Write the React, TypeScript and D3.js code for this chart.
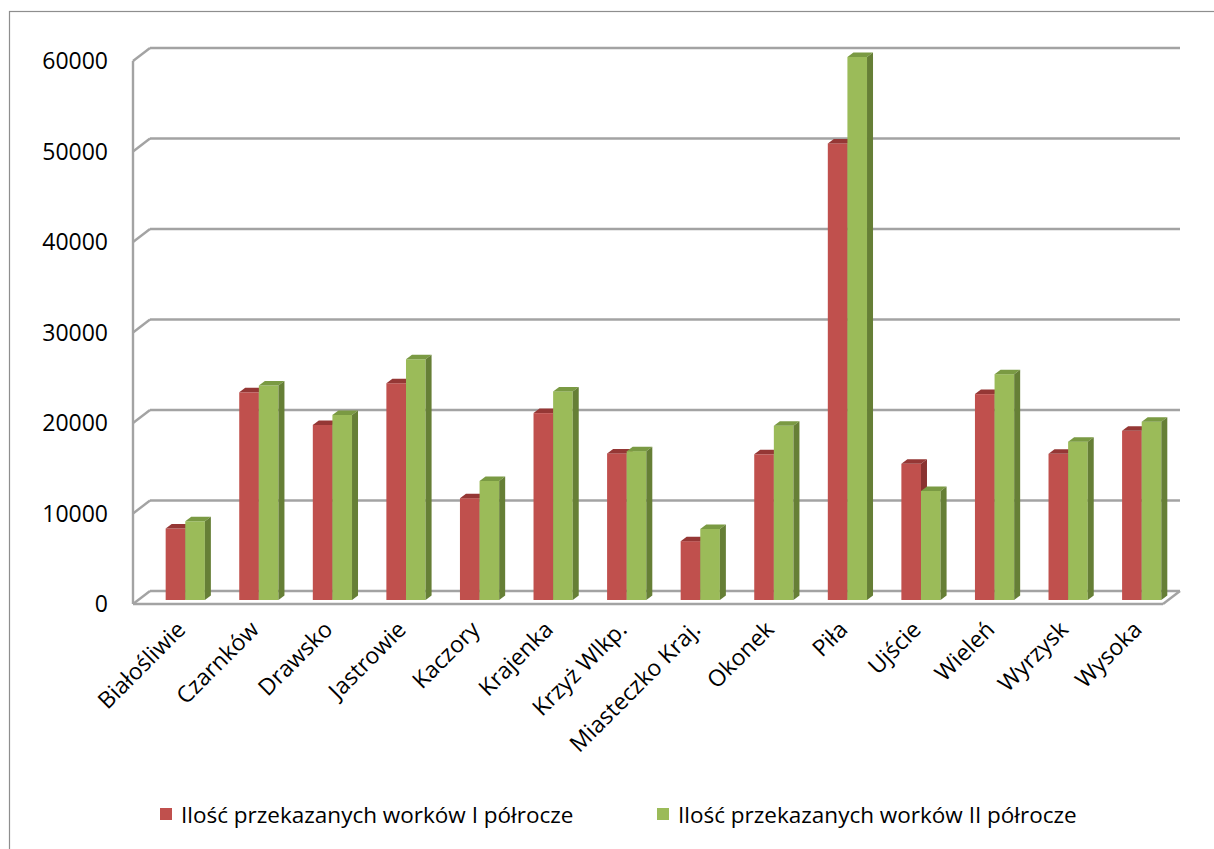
import React from "react";
import * as d3 from "d3";

const categories = [
  "Białośliwie", "Czarnków", "Drawsko", "Jastrowie", "Kaczory", "Krajenka",
  "Krzyż Wlkp.", "Miasteczko Kraj.", "Okonek", "Piła", "Ujście", "Wieleń",
  "Wyrzysk", "Wysoka",
];
const seriesI = [7900, 22950, 19350, 23950, 11250, 20650, 16200, 6500, 16100, 50450, 15050, 22750, 16150, 18700];
const seriesII = [8700, 23700, 20450, 26600, 13150, 23050, 16450, 7850, 19250, 60000, 12050, 24950, 17500, 19700];
const yTicks = [0, 10000, 20000, 30000, 40000, 50000, 60000];
const seriesNames = ["Ilość przekazanych worków I półrocze", "Ilość przekazanych worków II półrocze"];

const W = 1214, H = 849;
const FONT = "'Open Sans', 'Noto Sans', sans-serif";
const DX = 17, DY = -13; // wall depth
const xFront0 = 133, xFront1 = 1163, yFloorFront = 604;
const yFloorBack = yFloorFront + DY;
const barBase = 600;
const BDX = 6, BDY = -4.5; // bar depth

const colors = [
  { front: "#C0504D", top: "#953735", side: "#8A3230" },
  { front: "#9BBB59", top: "#7A9A43", side: "#667F36" },
];

export default function App() {
  const x = d3.scaleBand<string>().domain(categories).range([xFront0, xFront1]).paddingInner(0).paddingOuter(0);
  const yBack = d3.scaleLinear().domain([0, 60000]).range([yFloorBack, 48]);
  const yBar = d3.scaleLinear().domain([0, 60000]).range([barBase, barBase - (yFloorBack - 48)]);
  const bw = x.bandwidth() * 0.2665;
  const offset = x.bandwidth() * 0.444;
  const data = [seriesI, seriesII];

  const grid = "#A3A3A3";
  return (
    <svg width={W} height={H} style={{ position: "absolute", left: 0, top: 0, background: "#fff" }} fontFamily={FONT}>
      <rect x={9.5} y={11.5} width={1210} height={850} fill="#fff" stroke="#8E8E8E" strokeWidth={1.2} />
      {/* walls & gridlines */}
      {yTicks.map((t) => (
        <g key={t}>
          <line x1={xFront0 + DX} x2={xFront1 + DX} y1={yBack(t)} y2={yBack(t)} stroke={grid} strokeWidth={2.4} />
          <line x1={xFront0} x2={xFront0 + DX} y1={yBack(t) - DY} y2={yBack(t)} stroke={grid} strokeWidth={2.4} />
          <text x={108} y={yBack(t) - DY} dy="0.36em" textAnchor="end" fontSize={23} fill="#000">{t}</text>
        </g>
      ))}
      <line x1={xFront0} x2={xFront0} y1={yBack(60000) - DY} y2={yFloorFront} stroke={grid} strokeWidth={2.4} />
      <line x1={xFront0} x2={xFront1} y1={yFloorFront} y2={yFloorFront} stroke={grid} strokeWidth={2.4} />
      <line x1={xFront1} x2={xFront1 + DX} y1={yFloorFront} y2={yFloorBack} stroke={grid} strokeWidth={2.4} />
      {/* bars */}
      {categories.map((c, i) => (
        <g key={c}>
          {data.map((s, k) => {
            const x0 = (x(c) as number) + offset + k * bw;
            const x1 = x0 + bw;
            const yt = yBar(s[i]);
            const col = colors[k];
            return (
              <g key={k}>
                <rect x={x0} y={yt} width={bw} height={barBase - yt} fill={col.front} />
                <path d={`M${x0},${yt}L${x0 + BDX},${yt + BDY}L${x1 + BDX},${yt + BDY}L${x1},${yt}Z`} fill={col.top} />
                <path d={`M${x1},${yt}L${x1 + BDX},${yt + BDY}L${x1 + BDX},${barBase + BDY}L${x1},${barBase}Z`} fill={col.side} />
              </g>
            );
          })}
        </g>
      ))}
      {/* x labels */}
      {categories.map((c) => {
        const cx = (x(c) as number) + x.bandwidth() / 2 + 17;
        const cy = 631;
        return (
          <text key={c} x={cx} y={cy} textAnchor="end" fontSize={23} fill="#000" transform={`rotate(-45,${cx},${cy})`}>{c}</text>
        );
      })}
      {/* legend */}
      {seriesNames.map((n, k) => {
        const lx = k === 0 ? 160 : 657;
        return (
          <g key={n}>
            <rect x={lx} y={808} width={12} height={12} fill={colors[k].front} />
            <text x={lx + 21} y={815} dy="0.36em" fontSize={22.5} fill="#000">{n}</text>
          </g>
        );
      })}
    </svg>
  );
}
